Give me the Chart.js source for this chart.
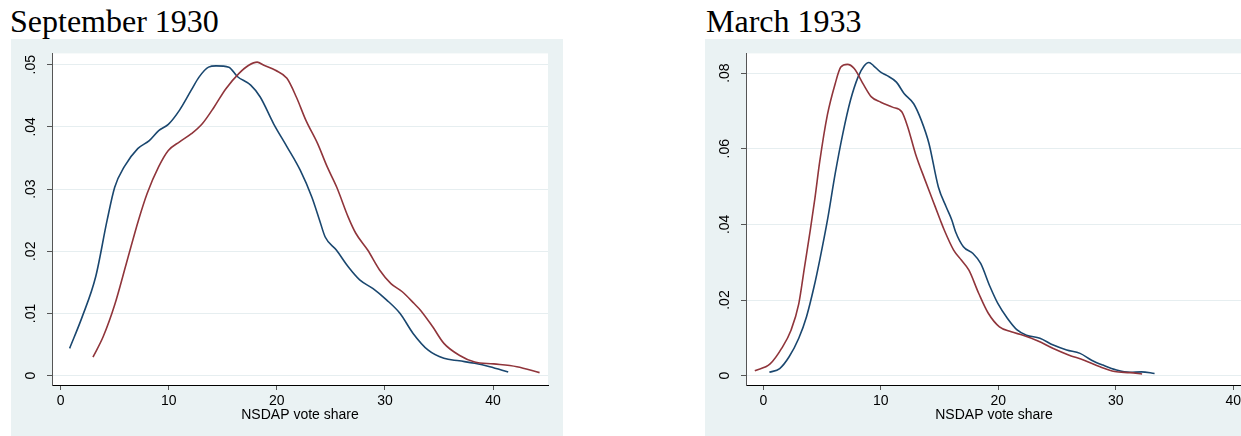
<!DOCTYPE html>
<html>
<head>
<meta charset="utf-8">
<script src="https://cdn.jsdelivr.net/npm/chart.js@4.4.1/dist/chart.umd.min.js"></script>
<style>
  body { margin: 0; width: 1241px; height: 436px; overflow: hidden; background: #fff; position: relative; }
  .title { position: absolute; top: 5px; font-family: 'Liberation Serif', 'Times New Roman', serif; font-size: 32px; line-height: 32px; color: #000; white-space: nowrap; }
  .panel { position: absolute; top: 39px; width: 552px; height: 397px; background: #eaf2f3; }
</style>
</head>
<body>
<div class="title" style="left:10px">September 1930</div>
<div class="panel" style="left:11px"><canvas id="sepChart"></canvas></div>
<div class="title" style="left:706px">March 1933</div>
<div class="panel" style="left:705px"><canvas id="marChart"></canvas></div>
<script>
// x axis labels
const xTicks = [0, 10, 20, 30, 40];
const xTitle = 'NSDAP vote share';

// September 1930
const sepYTicks = [0, 0.01, 0.02, 0.03, 0.04, 0.05];
const sepYLabels = ['0', '.01', '.02', '.03', '.04', '.05'];
const sepBlueX = [0.83, 2.0, 3.24, 4.3, 5.0, 5.89, 7.13, 8.2, 9.07, 9.96, 11.0, 12.08, 12.8, 13.68, 14.38, 15.56, 16.34, 17.58, 18.46, 19.7, 20.94, 22.17, 23.24, 23.95, 24.47, 25.5, 26.6, 27.66, 28.9, 30.14, 31.4, 32.6, 34.0, 35.45, 36.87, 38.3, 39.7, 41.4];
const sepBlueY = [0.0044, 0.0095, 0.0159, 0.025, 0.0303, 0.0336, 0.0365, 0.0378, 0.0394, 0.0404, 0.0427, 0.0459, 0.048, 0.0496, 0.0498, 0.0496, 0.0481, 0.0467, 0.0448, 0.0405, 0.0368, 0.033, 0.0287, 0.025, 0.0223, 0.0202, 0.0175, 0.0154, 0.014, 0.0122, 0.01, 0.0068, 0.0041, 0.0028, 0.0024, 0.002, 0.00145, 0.0006];
const sepRedX = [2.99, 3.94, 5.0, 6.07, 7.2, 8.0, 9.07, 9.96, 11.0, 12.1, 13.1, 14.2, 15.27, 16.5, 17.4, 18.18, 18.8, 19.87, 20.93, 21.8, 22.7, 23.77, 24.65, 25.54, 26.6, 27.3, 28.4, 29.5, 30.55, 31.6, 32.7, 33.3, 34.4, 35.45, 36.87, 38.3, 40.06, 42.2, 44.3];
const sepRedY = [0.003, 0.0063, 0.0114, 0.018, 0.025, 0.0293, 0.0336, 0.0362, 0.0376, 0.0389, 0.0405, 0.0432, 0.0461, 0.0486, 0.0499, 0.0504, 0.0499, 0.0491, 0.0478, 0.0448, 0.041, 0.0373, 0.0336, 0.0303, 0.0255, 0.0229, 0.0202, 0.017, 0.0148, 0.0135, 0.0116, 0.0105, 0.0079, 0.0052, 0.0033, 0.0022, 0.0019, 0.00145, 0.0005];

// March 1933
const marYTicks = [0, 0.02, 0.04, 0.06, 0.08];
const marYLabels = ['0', '.02', '.04', '.06', '.08'];
const marBlueX = [0.52, 1.4, 2.2, 3.02, 3.68, 4.32, 4.8, 5.46, 6.12, 6.77, 7.42, 8.07, 8.56, 8.99, 9.37, 9.96, 10.5, 11.33, 11.98, 12.8, 13.45, 14.1, 14.9, 15.57, 16.05, 16.37, 17.03, 17.85, 18.5, 19.3, 19.96, 20.77, 21.6, 22.4, 23.54, 24.68, 25.82, 26.96, 27.94, 28.9, 30.06, 31.2, 32.18, 33.3];
const marBlueY = [0.0009, 0.0019, 0.005, 0.0099, 0.0156, 0.0235, 0.0305, 0.0411, 0.0534, 0.064, 0.0728, 0.079, 0.0818, 0.0828, 0.082, 0.0803, 0.0794, 0.0776, 0.0746, 0.0719, 0.0675, 0.0614, 0.0499, 0.0446, 0.0411, 0.038, 0.0341, 0.0323, 0.0297, 0.0235, 0.0191, 0.0152, 0.0121, 0.0107, 0.0099, 0.0081, 0.0068, 0.0059, 0.0041, 0.0028, 0.0015, 0.0009, 0.001, 0.0006];
const marRedX = [-0.72, 0.58, 1.56, 2.37, 3.02, 3.5, 4.0, 4.4, 4.8, 5.46, 6.12, 6.6, 7.16, 7.74, 8.56, 9.2, 10.0, 11.0, 11.8, 12.3, 12.95, 13.77, 14.42, 15.07, 15.4, 16.2, 16.87, 17.5, 18.33, 19.15, 20.1, 21.1, 22.1, 23.38, 24.68, 25.98, 27.3, 28.6, 29.9, 31.2, 32.24];
const marRedY = [0.0013, 0.0031, 0.0072, 0.0121, 0.019, 0.0285, 0.0385, 0.047, 0.0565, 0.069, 0.0772, 0.0816, 0.0823, 0.0812, 0.0768, 0.0737, 0.0723, 0.071, 0.0697, 0.0657, 0.0587, 0.0517, 0.0464, 0.0411, 0.0385, 0.0332, 0.0305, 0.0279, 0.0218, 0.0165, 0.0129, 0.0116, 0.0107, 0.0092, 0.0072, 0.0055, 0.0041, 0.0024, 0.0011, 0.0008, 0.00045];

const blue = '#1a476f';
const red = '#90353b';
const tickFont = { family: "'Liberation Sans', Arial, sans-serif", size: 14 };

// white plot region on the grey panel
const plotBackground = {
  id: 'plotBackground',
  beforeDraw(chart) {
    const { ctx, chartArea } = chart;
    ctx.save();
    ctx.fillStyle = '#ffffff';
    ctx.fillRect(chartArea.left, chartArea.top, chartArea.right - chartArea.left, chartArea.bottom - chartArea.top);
    ctx.restore();
  }
};

function toPoints(xs, ys) {
  return xs.map((x, i) => ({ x: x, y: ys[i] }));
}

function makePanel(canvasId, opts) {
  return new Chart(document.getElementById(canvasId), {
    type: 'line',
    data: {
      datasets: [
        { data: toPoints(opts.redX, opts.redY), borderColor: red },
        { data: toPoints(opts.blueX, opts.blueY), borderColor: blue }
      ]
    },
    options: {
      responsive: true,
      maintainAspectRatio: false,
      animation: false,
      datasets: {
        line: { borderWidth: 1.6, pointRadius: 0, fill: false, cubicInterpolationMode: 'monotone' }
      },
      layout: { padding: { left: 0, top: 14, right: 15, bottom: 0 } },
      plugins: { legend: { display: false }, tooltip: { enabled: false } },
      scales: {
        x: {
          type: 'linear',
          min: opts.xMin,
          max: opts.xMax,
          afterBuildTicks: scale => { scale.ticks = xTicks.map(v => ({ value: v })); },
          afterFit: scale => { scale.height = 51; },
          ticks: { padding: 3, color: '#000', font: tickFont, maxRotation: 0, autoSkip: false },
          grid: { drawOnChartArea: false, drawTicks: true, tickLength: 5, tickColor: '#555' },
          border: { display: true, color: '#000', width: 1 },
          title: { display: true, text: xTitle, color: '#000', font: tickFont, padding: { top: 0, bottom: 12 } }
        },
        y: {
          type: 'linear',
          min: opts.yMin,
          max: opts.yMax,
          afterBuildTicks: scale => { scale.ticks = opts.yTicks.map(v => ({ value: v })); },
          afterFit: scale => { scale.width = 41; },
          ticks: {
            minRotation: 90,
            maxRotation: 90,
            crossAlign: 'center',
            padding: 6,
            color: '#000',
            font: tickFont,
            callback: (v, i) => opts.yLabels[i]
          },
          grid: { color: '#e6eef0', lineWidth: 1, drawTicks: true, tickLength: 5, tickColor: '#555' },
          border: { display: true, color: '#555', width: 1 }
        }
      }
    },
    plugins: [plotBackground]
  });
}

document.addEventListener('DOMContentLoaded', function () {
  makePanel('sepChart', {
    xMin: -0.8, xMax: 45.08, yMin: -0.00149, yMax: 0.05181,
    yTicks: sepYTicks, yLabels: sepYLabels,
    blueX: sepBlueX, blueY: sepBlueY, redX: sepRedX, redY: sepRedY
  });
  makePanel('marChart', {
    xMin: -1.47, xMax: 40.74, yMin: -0.00246, yMax: 0.0852,
    yTicks: marYTicks, yLabels: marYLabels,
    blueX: marBlueX, blueY: marBlueY, redX: marRedX, redY: marRedY
  });
});
</script>
</body>
</html>
